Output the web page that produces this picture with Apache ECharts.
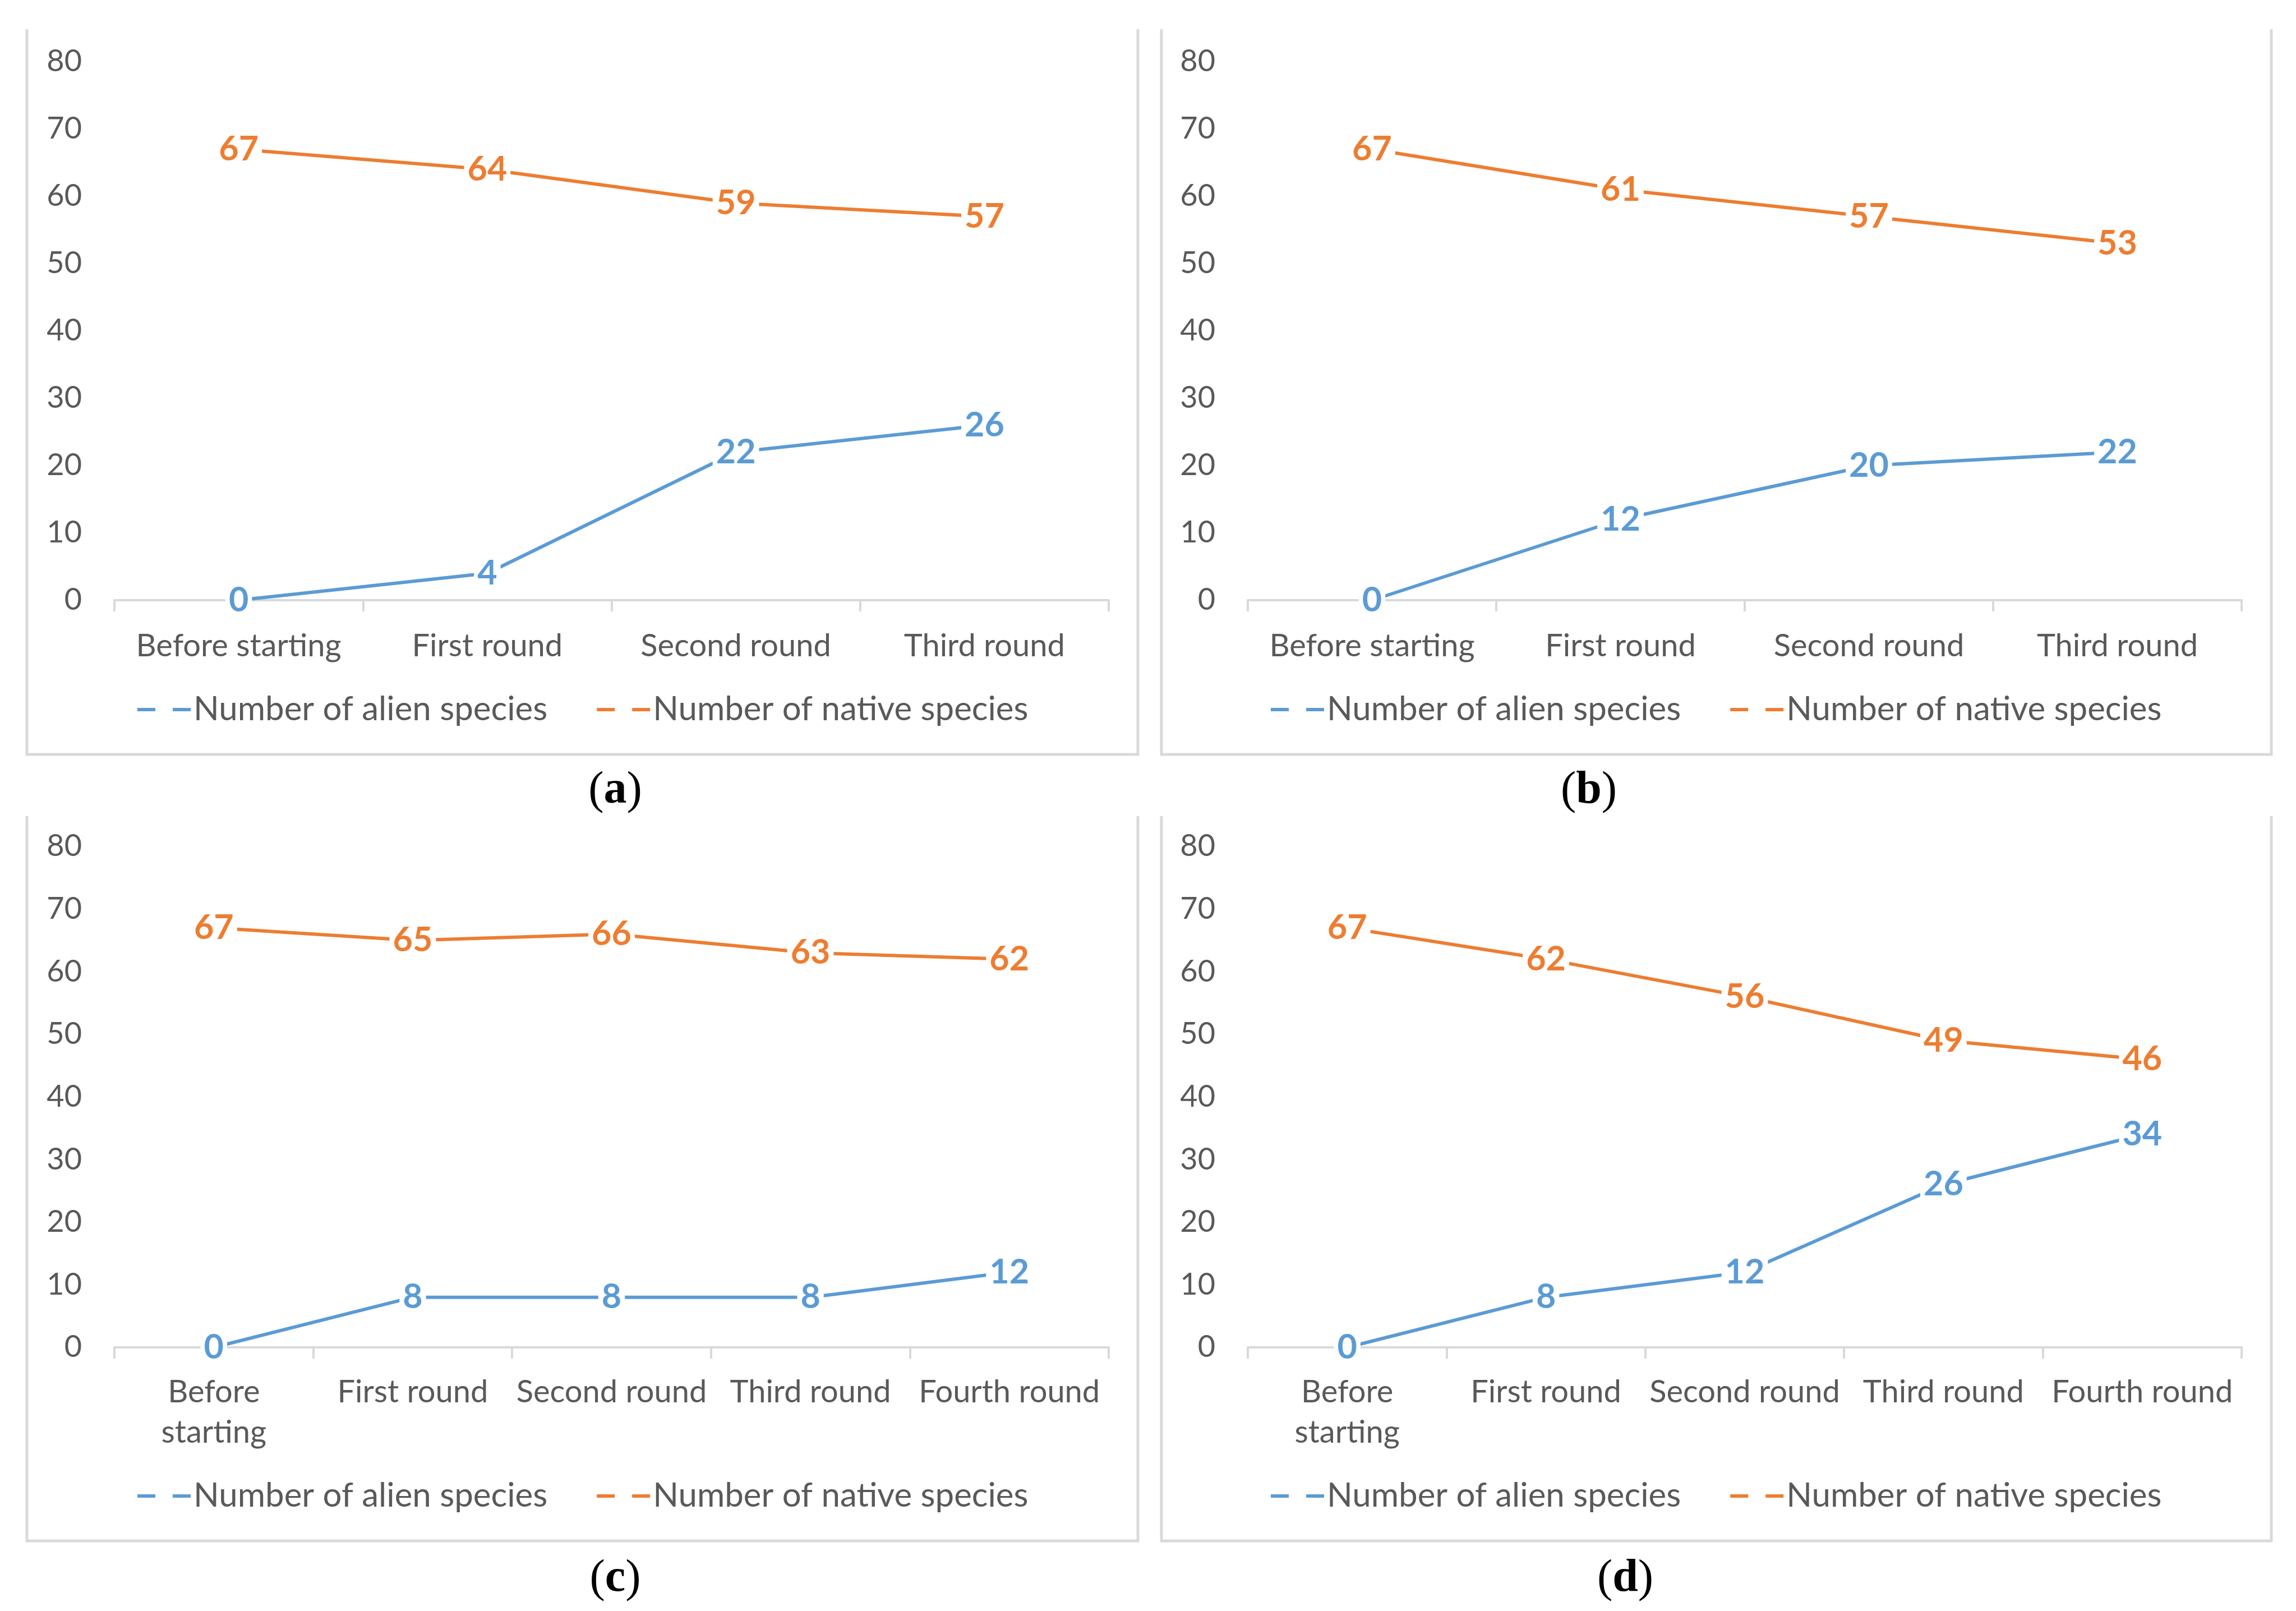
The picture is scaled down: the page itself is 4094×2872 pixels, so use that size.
<!DOCTYPE html>
<html>
<head>
<meta charset="utf-8">
<script src="https://cdn.jsdelivr.net/npm/echarts@6/dist/echarts.min.js"></script>
<style>
html,body{margin:0;padding:0;background:#fff;}
#c{width:4094px;height:2872px;}
</style>
</head>
<body>
<div id="c"></div>
<script>
// ---- data ----
const cats4 = ['Before starting', 'First round', 'Second round', 'Third round'];
const cats5 = ['Before starting', 'First round', 'Second round', 'Third round', 'Fourth round'];
const alienA = [0, 4, 22, 26];
const nativeA = [67, 64, 59, 57];
const alienB = [0, 12, 20, 22];
const nativeB = [67, 61, 57, 53];
const alienC = [0, 8, 8, 8, 12];
const nativeC = [67, 65, 66, 63, 62];
const alienD = [0, 8, 12, 26, 34];
const nativeD = [67, 62, 56, 49, 46];
const seriesNames = ['Number of alien species', 'Number of native species'];
const panelLetters = ['a', 'b', 'c', 'd'];
const yMin = 0, yMax = 80, yStep = 10;

// ---- styling ----
const BLUE = '#5B9BD5', ORANGE = '#ED7D31', GRAY = '#595959', AXIS = '#d9d9d9';
const FONT = 'Lato';

const panels = [
  {cats: cats4, alien: alienA, native: nativeA, gl: 204, gt: 110, gw: 1773, gh: 960, lx: 240, ly: 1230, bx: 48, bt: 52, bw: 1981, bb: 1345, cx: 1097, cy: 1410, wrap: false},
  {cats: cats4, alien: alienB, native: nativeB, gl: 2225, gt: 110, gw: 1772, gh: 960, lx: 2261, ly: 1230, bx: 2071, bt: 52, bw: 1979, bb: 1345, cx: 2833, cy: 1410, wrap: false},
  {cats: cats5, alien: alienC, native: nativeC, gl: 204, gt: 1509, gw: 1773, gh: 893, lx: 240, ly: 2632, bx: 48, bt: 1455, bw: 1981, bb: 2747, cx: 1097, cy: 2815, wrap: true},
  {cats: cats5, alien: alienD, native: nativeD, gl: 2225, gt: 1509, gw: 1772, gh: 893, lx: 2261, ly: 2632, bx: 2071, bt: 1455, bw: 1979, bb: 2747, cx: 2898, cy: 2815, wrap: true}
];

const grid = [], xAxis = [], yAxis = [], series = [], legend = [], graphic = [];
const legendIcon = 'path://M0,0H32V6H0Z M63,0H95V6H63Z';

panels.forEach((p, i) => {
  grid.push({left: p.gl, top: p.gt, width: p.gw, height: p.gh, containLabel: false});
  xAxis.push({
    type: 'category', gridIndex: i, data: p.cats, boundaryGap: true,
    axisLine: {lineStyle: {color: AXIS, width: 4}},
    axisTick: {show: true, length: 20, lineStyle: {color: AXIS, width: 4}},
    axisLabel: {
      color: GRAY, fontFamily: FONT, fontSize: 56, margin: p.wrap ? 44 : 46, lineHeight: 72, interval: 0,
      formatter: p.wrap ? (v => v.replace('Before starting', 'Before\nstarting')) : (v => v)
    },
    splitLine: {show: false}
  });
  yAxis.push({
    type: 'value', gridIndex: i, min: yMin, max: yMax, interval: yStep,
    axisLine: {show: false}, axisTick: {show: false}, splitLine: {show: false},
    axisLabel: {color: GRAY, fontFamily: FONT, fontSize: 54, margin: 58}
  });
  [[p.alien, BLUE, seriesNames[0]], [p.native, ORANGE, seriesNames[1]]].forEach(([d, col, nm]) => {
    series.push({
      type: 'line', name: nm, xAxisIndex: i, yAxisIndex: i, data: d,
      color: col, symbol: 'circle', symbolSize: 1, showSymbol: true,
      lineStyle: {color: col, width: 6},
      itemStyle: {color: col},
      label: {
        show: true, position: 'inside', color: col, fontFamily: FONT, fontWeight: 'bold', fontSize: 61,
        backgroundColor: '#fff', padding: [0, 6]
      },
      emphasis: {disabled: true}, animation: false, z: 3
    });
  });
  legend.push({
    data: seriesNames, left: p.lx, top: p.ly, orient: 'horizontal',
    icon: legendIcon, itemWidth: 95, itemHeight: 6, itemGap: 88,
    textStyle: {color: GRAY, fontFamily: FONT, fontSize: 60},
    selectedMode: false
  });
  // panel frame: left, right, bottom (top open)
  graphic.push({
    type: 'polyline', silent: true,
    shape: {points: [[p.bx, p.bt], [p.bx, p.bb], [p.bx + p.bw, p.bb], [p.bx + p.bw, p.bt]]},
    style: {stroke: AXIS, lineWidth: 5, fill: null}
  });
  graphic.push({
    type: 'text', silent: true, x: p.cx, y: p.cy,
    style: {
      text: '{p|(}{b|' + panelLetters[i] + '}{p|)}',
      align: 'center', verticalAlign: 'middle',
      rich: {
        p: {fontFamily: 'Liberation Serif', fontSize: 82, color: '#000'},
        b: {fontFamily: 'Liberation Serif', fontSize: 82, fontWeight: 'bold', color: '#000'}
      }
    }
  });
});

const chart = echarts.init(document.getElementById('c'), null, {renderer: 'canvas'});
chart.setOption({
  backgroundColor: '#fff',
  animation: false,
  grid, xAxis, yAxis, series, legend, graphic
});
</script>
</body>
</html>
